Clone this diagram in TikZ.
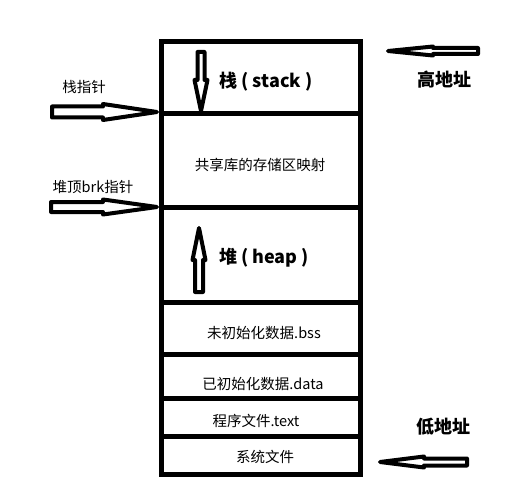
\documentclass[tikz,border=0pt]{standalone}
\usepackage{fontspec}
\setmainfont{Noto Sans CJK SC}

\tikzset{
  seg/.style={line width=5pt},
  hollow/.style={draw, fill=white, line width=4pt, line join=round},
  lbl/.style={font=\fontsize{14.5}{16}\selectfont, inner sep=0pt},
  big/.style={font=\fontsize{18}{20}\selectfont\bfseries, inner sep=0pt},
  % 中抜きの矢印 (長さ, 頭の長さ, 軸の半幅, 頭の半幅)
  pics/hollowarrow/.style n args={4}{code={
    \draw[hollow] (0,0) -- (-#2,-#4) -- (-#2,-#3) -- (-#1,-#3)
      -- (-#1,#3) -- (-#2,#3) -- (-#2,#4) -- cycle;
  }},
}

\begin{document}
\begin{tikzpicture}[x=1pt, y=-1pt]
    \useasboundingbox (0,0) rectangle (518,494);

    % 外枠の描画
    \draw[seg] (161,42) rectangle (360,474);

    % 区切り線の描画
    \foreach \y in {114,207,302,354,398,436}
        \draw[seg] (161,\y) -- (360,\y);

    % 各領域の文字
    \node[big] (stack) at (266,82) {栈 ( stack )};
    \node[lbl] (shlib) at (260,165) {共享库的存储区映射};
    \node[big] (heap) at (264,258) {堆 ( heap )};
    \node[lbl] (bss) at (264,333) {未初始化数据.bss};
    \node[lbl] (data) at (263,384) {已初始化数据.data};
    \node[lbl] (text) at (256,421) {程序文件.text};
    \node[lbl] (sys) at (265,457) {系统文件};

    % 左側の指針
    \node[lbl] (sptr) at (84,87) {栈指针};
    \node[lbl] (brk) at (93,187) {堆顶brk指针};
    \coordinate (sptip) at (157,112);
    \coordinate (brktip) at (157,207);
    \pic at (sptip) {hollowarrow={105}{54}{5.5}{8}};
    \pic at (brktip) {hollowarrow={106}{54}{5}{7.5}};

    % 右側の番地
    \node[big] (high) at (444,80) {高地址};
    \node[big] (low) at (443,427) {低地址};
    \coordinate (hightip) at (388,51);
    \coordinate (lowtip) at (380,462);
    \pic[rotate=180] at (hightip) {hollowarrow={90}{45}{3}{4.5}};
    \pic[rotate=180] at (lowtip) {hollowarrow={87}{44}{3.5}{5.5}};

    % 成長方向の矢印
    \coordinate (stip) at (201,111);
    \coordinate (htip) at (199,228);
    \pic[rotate=-90] at (stip) {hollowarrow={59}{31}{3.5}{6.5}};
    \pic[rotate=90] at (htip) {hollowarrow={64}{32}{4}{6.5}};

\end{tikzpicture}
\end{document}
